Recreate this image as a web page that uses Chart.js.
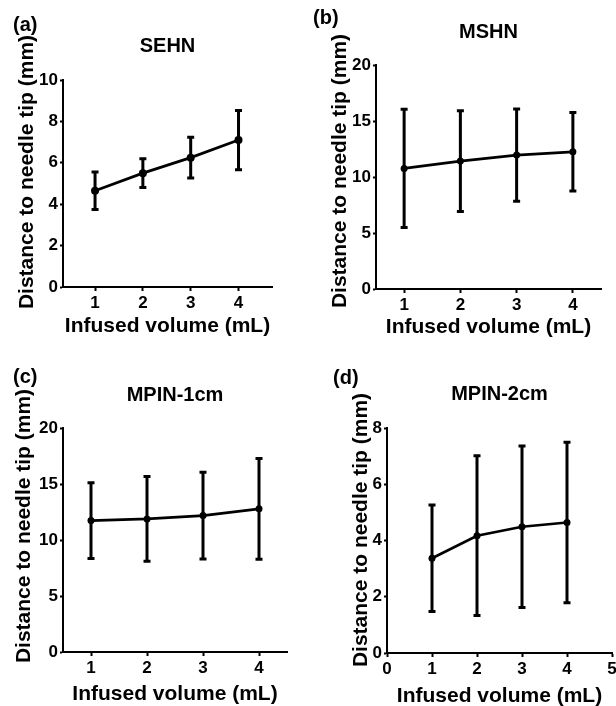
<!DOCTYPE html>
<html>
<head>
<meta charset="utf-8">
<script src="https://cdn.jsdelivr.net/npm/chart.js@4.4.1/dist/chart.umd.min.js"></script>
<style>
body{margin:0;background:#fff;}
#wrap{position:relative;width:616px;height:706px;}
.pan{position:absolute;}
</style>
</head>
<body>
<div id="wrap">
  <div class="pan" style="left:0;top:0;width:308px;height:350px"><canvas id="cA"></canvas></div>
  <div class="pan" style="left:308px;top:0;width:308px;height:350px"><canvas id="cB"></canvas></div>
  <div class="pan" style="left:0;top:350px;width:308px;height:356px"><canvas id="cC"></canvas></div>
  <div class="pan" style="left:308px;top:350px;width:308px;height:356px"><canvas id="cD"></canvas></div>
</div>
<script>
// infused volume (mL)
const volumes = [1, 2, 3, 4];

// mean and SD of distance to needle tip (mm)
const sehnMean = [4.65, 5.5, 6.25, 7.1];
const sehnSd = [0.91, 0.69, 0.99, 1.43];
const mshnMean = [10.77, 11.42, 11.96, 12.25];
const mshnSd = [5.28, 4.5, 4.12, 3.5];
const mpin1Mean = [11.73, 11.88, 12.18, 12.78];
const mpin1Sd = [3.39, 3.78, 3.88, 4.5];
const mpin2Mean = [3.37, 4.17, 4.49, 4.64];
const mpin2Sd = [1.89, 2.84, 2.87, 2.85];

// tick labels
const xTicks14 = [1, 2, 3, 4];
const xTicks05 = [0, 1, 2, 3, 4, 5];
const yTicks10 = [0, 2, 4, 6, 8, 10];
const yTicks20 = [0, 5, 10, 15, 20];
const yTicks8 = [0, 2, 4, 6, 8];

const xTitle = 'Infused volume (mL)';
const yTitle = 'Distance to needle tip (mm)';

const FONT = "'Liberation Sans', Arial, Helvetica, sans-serif";
Chart.defaults.font.family = FONT;
Chart.defaults.color = '#000';

// error bars (mean +/- SD), drawn through the scales
const errorBars = {
  id: 'errorBars',
  beforeDatasetsDraw(chart) {
    const ctx = chart.ctx;
    const x = chart.scales.x, y = chart.scales.y;
    const ds = chart.data.datasets[0];
    const cap = 3.5;
    ctx.save();
    ctx.strokeStyle = '#000';
    ctx.lineWidth = 3;
    ds.data.forEach((p, i) => {
      const px = x.getPixelForValue(p.x);
      const top = y.getPixelForValue(p.y + ds.errSd[i]);
      const bot = y.getPixelForValue(p.y - ds.errSd[i]);
      ctx.beginPath();
      ctx.moveTo(px, top); ctx.lineTo(px, bot);
      ctx.moveTo(px - cap, top); ctx.lineTo(px + cap, top);
      ctx.moveTo(px - cap, bot); ctx.lineTo(px + cap, bot);
      ctx.stroke();
    });
    ctx.restore();
  }
};

// panel letter and rotated y title
const panelText = {
  id: 'panelText',
  afterDraw(chart, args, o) {
    const ctx = chart.ctx;
    ctx.save();
    ctx.fillStyle = '#000';
    ctx.textBaseline = 'middle';
    ctx.textAlign = 'left';
    ctx.font = 'bold 20px ' + FONT;
    ctx.fillText(o.label, o.labelX, o.labelY);
    ctx.translate(o.yTitleX, o.yTitleY);
    ctx.rotate(-Math.PI / 2);
    ctx.textAlign = 'center';
    ctx.font = 'bold 21px ' + FONT;
    ctx.fillText(yTitle, 0, 0);
    ctx.restore();
  }
};

function makePanel(id, p) {
  const W = 308;
  new Chart(document.getElementById(id), {
    type: 'scatter',
    data: {
      datasets: [{
        data: volumes.map((v, i) => ({x: v, y: p.mean[i]})),
        errSd: p.sd,
        showLine: true,
        borderColor: '#000',
        borderWidth: 2.7,
        backgroundColor: '#000',
        pointBackgroundColor: '#000',
        pointBorderWidth: 0,
        pointRadius: p.radius,
        tension: 0
      }]
    },
    options: {
      responsive: true,
      maintainAspectRatio: false,
      animation: false,
      layout: {padding: {left: 0, top: 0, bottom: 0, right: W - p.area.r}},
      plugins: {
        legend: {display: false},
        tooltip: {enabled: false},
        title: {
          display: true,
          text: p.title,
          fullSize: false,
          color: '#000',
          font: {size: 20, weight: 'bold', lineHeight: 1.2},
          padding: {top: p.titleY - 12, bottom: p.area.t - p.titleY - 12}
        },
        panelText: {label: p.label, labelX: p.labelX, labelY: p.labelY, yTitleX: p.yTitleX, yTitleY: p.yTitleY}
      },
      scales: {
        x: {
          type: 'linear',
          min: p.xMin,
          max: p.xMax,
          afterBuildTicks: s => { s.ticks = p.xTicks.map(v => ({value: v})); },
          afterFit: s => { s.height = p.H - p.area.b; s.paddingLeft = 0; s.paddingRight = 0; },
          border: {display: true, color: '#000', width: 2},
          grid: {drawOnChartArea: false, drawTicks: true, tickLength: 4, tickWidth: 2, tickColor: '#000'},
          ticks: {color: '#000', padding: 2, maxRotation: 0, font: {size: 17, weight: 'bold'}},
          title: {
            display: true,
            text: xTitle,
            color: '#000',
            font: {size: 21, weight: 'bold', lineHeight: 1.2},
            padding: {top: 0, bottom: p.H - p.xTitleY - 12.6}
          }
        },
        y: {
          type: 'linear',
          min: 0,
          max: p.yTicks[p.yTicks.length - 1],
          afterBuildTicks: s => { s.ticks = p.yTicks.map(v => ({value: v})); },
          afterFit: s => { s.width = p.area.l; s.paddingTop = 0; s.paddingBottom = 0; },
          border: {display: true, color: '#000', width: 2},
          grid: {drawOnChartArea: false, drawTicks: true, tickLength: 3, tickWidth: 2, tickColor: '#000'},
          ticks: {color: '#000', padding: 2, font: {size: 17, weight: 'bold'}}
        }
      }
    },
    plugins: [errorBars, panelText]
  });
}

makePanel('cA', {
  title: 'SEHN', label: '(a)', mean: sehnMean, sd: sehnSd, radius: 4,
  H: 350, area: {l: 63, t: 80, r: 272, b: 287}, titleY: 46, xTitleY: 326,
  yTitleX: 27, yTitleY: 172, labelX: 13, labelY: 25,
  xMin: 0.33, xMax: 4.7, xTicks: xTicks14, yTicks: yTicks10
});
makePanel('cB', {
  title: 'MSHN', label: '(b)', mean: mshnMean, sd: mshnSd, radius: 3.5,
  H: 350, area: {l: 68, t: 65, r: 293, b: 289}, titleY: 32, xTitleY: 327,
  yTitleX: 32, yTitleY: 171, labelX: 5, labelY: 18,
  xMin: 0.5, xMax: 4.5, xTicks: xTicks14, yTicks: yTicks20
});
makePanel('cC', {
  title: 'MPIN-1cm', label: '(c)', mean: mpin1Mean, sd: mpin1Sd, radius: 3.5,
  H: 356, area: {l: 63, t: 78, r: 287, b: 302}, titleY: 45, xTitleY: 344,
  yTitleX: 24, yTitleY: 176, labelX: 13, labelY: 27,
  xMin: 0.5, xMax: 4.5, xTicks: xTicks14, yTicks: yTicks20
});
makePanel('cD', {
  title: 'MPIN-2cm', label: '(d)', mean: mpin2Mean, sd: mpin2Sd, radius: 3.5,
  H: 356, area: {l: 79, t: 78, r: 305, b: 303}, titleY: 44.5, xTitleY: 346,
  yTitleX: 53, yTitleY: 180, labelX: 25, labelY: 28,
  xMin: 0, xMax: 5, xTicks: xTicks05, yTicks: yTicks8
});
</script>
</body>
</html>
